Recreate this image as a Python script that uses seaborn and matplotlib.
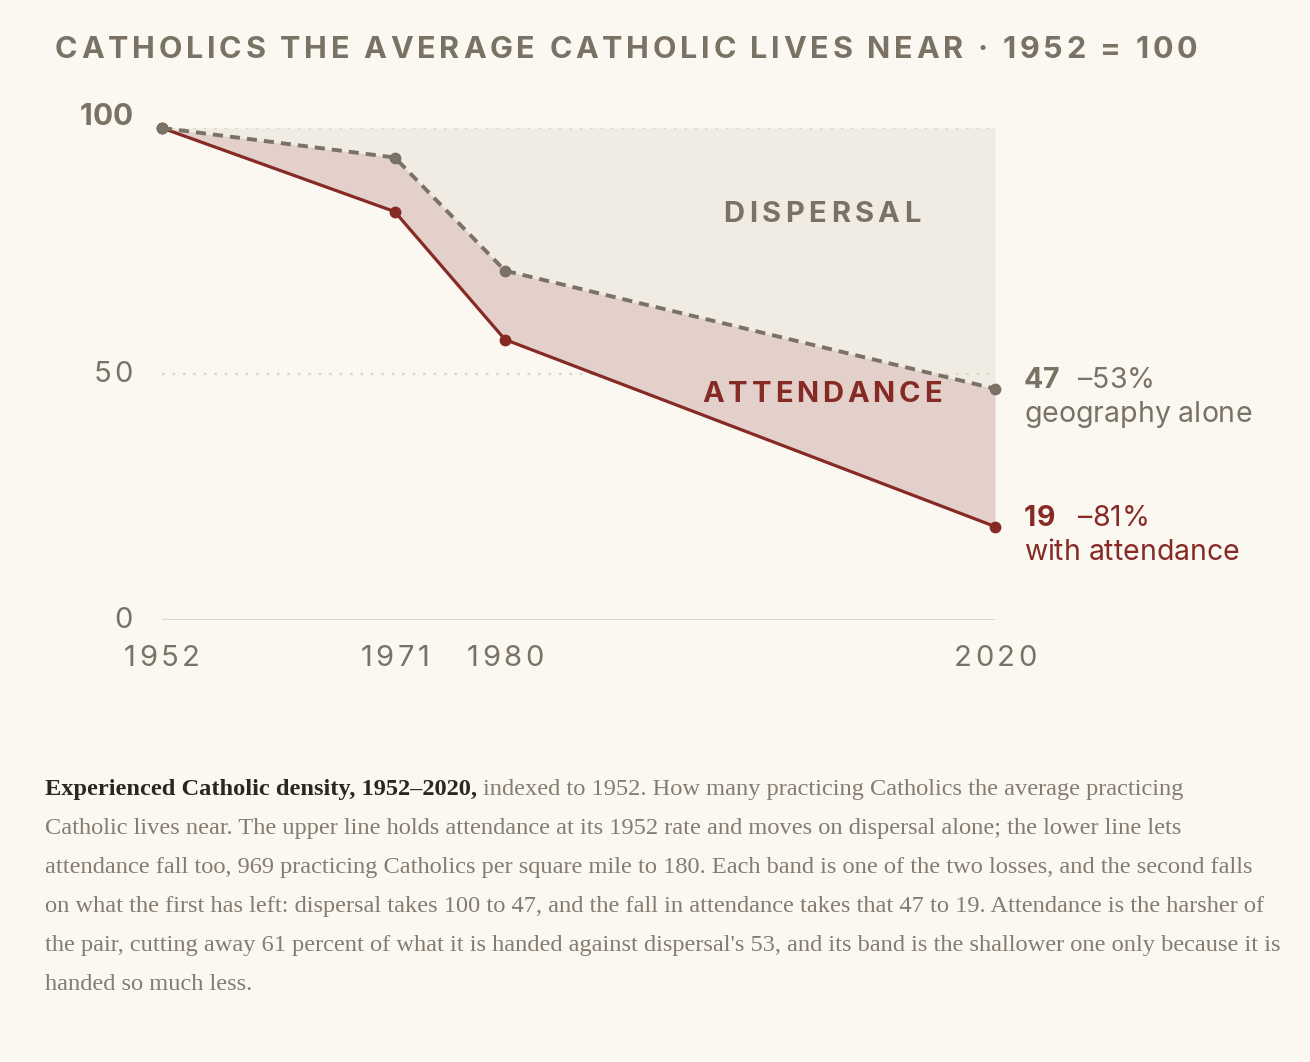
import matplotlib
matplotlib.use("Agg")
import matplotlib.pyplot as plt
import seaborn as sns
import pandas as pd
from matplotlib.font_manager import FontProperties

# index, 1952 = 100
years = [1952, 1971, 1980, 2020]
geography = [100, 94, 71, 47]     # attendance held at its 1952 rate
attendance = [100, 83, 57, 19]    # attendance allowed to fall
y_ticks = [0, 50, 100]

title = "CATHOLICS THE AVERAGE CATHOLIC LIVES NEAR \u00b7 1952 = 100"
geo_label = ("47", "\u201353%", "geography alone")
att_label = ("19", "\u201381%", "with attendance")

caption_bold = "Experienced Catholic density, 1952\u20132020,"
caption_lines = [
    " indexed to 1952. How many practicing Catholics the average practicing",
    "Catholic lives near. The upper line holds attendance at its 1952 rate and moves on dispersal alone; the lower line lets",
    "attendance fall too, 969 practicing Catholics per square mile to 180. Each band is one of the two losses, and the second falls",
    "on what the first has left: dispersal takes 100 to 47, and the fall in attendance takes that 47 to 19. Attendance is the harsher of",
    "the pair, cutting away 61 percent of what it is handed against dispersal's 53, and its band is the shallower one only because it is",
    "handed so much less.",
]

W, H = 1310, 1062
BG = "#fbf7f1"
GREY = "#7a7264"
RED = "#862a25"

sns.set_theme(style="white", rc={"figure.facecolor": BG, "axes.facecolor": BG})
plt.rcParams["font.family"] = ["Inter", "DejaVu Sans"]

fig = plt.figure(figsize=(W / 100, H / 100), dpi=100)
ax = fig.add_axes([162 / W, 1 - 620 / H, (995 - 162) / W, (620 - 128) / H])
ax.set_xlim(years[0], years[-1])
ax.set_ylim(0, 100)
ax.axis("off")

df = pd.DataFrame({"year": years, "geography": geography, "attendance": attendance})

# bands
ax.fill_between(df["year"], df["geography"], 100, color="#f0ece4", lw=0, zorder=1)
for v in y_ticks[1:]:
    ax.axhline(v, color="#dcd6c0", lw=1.6, ls=(0, (1.2, 3.5)), zorder=2)
ax.fill_between(df["year"], df["attendance"], df["geography"], color="#e4d0cb", lw=0, zorder=3)
ax.axhline(0, color="#e0d8c4", lw=1.6, zorder=2)

sns.lineplot(data=df, x="year", y="attendance", ax=ax, color=RED, lw=2.3,
             marker="o", markersize=8.5, markeredgewidth=0, clip_on=False, zorder=5)
sns.lineplot(data=df, x="year", y="geography", ax=ax, color=GREY, lw=2.8,
             linestyle=(0, (2.6, 1.8)), marker="o", markersize=8.5,
             markeredgewidth=0, clip_on=False, zorder=6)

renderer = fig.canvas.get_renderer()


def text_width(s, fp):
    return renderer.get_text_width_height_descent(s, fp, ismath=False)[0]


def spaced(x, y, s, fp, color, spacing=0.0, width=None, ha="left"):
    # x, y in pixels from the top left, y is the baseline
    natural = text_width(s, fp)
    if width is not None and len(s) > 1:
        spacing = (width - natural) / (len(s) - 1)
    total = natural + spacing * (len(s) - 1)
    if ha == "center":
        x -= total / 2
    elif ha == "right":
        x -= total
    for i, ch in enumerate(s):
        if ch == " ":
            continue
        left = text_width(s[:i + 1], fp) - text_width(ch, fp)
        fig.text((x + left + spacing * i) / W, 1 - y / H, ch, fontproperties=fp,
                 color=color, ha="left", va="baseline")


def data_px(x, y):
    px, py = ax.transData.transform((x, y))
    return px, H - py


sans = FontProperties(family=["Inter", "DejaVu Sans"], size=21)
sans_bold = FontProperties(family=["Inter", "DejaVu Sans"], size=21.5, weight="bold")
label_fp = FontProperties(family=["Inter", "DejaVu Sans"], size=20.5)
label_bold = FontProperties(family=["Inter", "DejaVu Sans"], size=20.5, weight="bold")

# title
spaced(55, 58, title, FontProperties(family=["Inter", "DejaVu Sans"], size=22, weight="bold"),
       GREY, width=1142)

# axis labels
for yr in years:
    px, py = data_px(yr, 0)
    spaced(px, 666, str(yr), sans, GREY, spacing=3.5, ha="center")
for v in y_ticks:
    px, py = data_px(years[0], v)
    if v == 100:
        spaced(133, py - 3, str(v), sans_bold, GREY, ha="right")
    else:
        spaced(133, py + 8, str(v), sans, GREY, spacing=3.5, ha="right")

# band names
band_fp = FontProperties(family=["Inter", "DejaVu Sans"], size=21, weight="bold")
spaced(822, 222, "DISPERSAL", band_fp, GREY, width=197, ha="center")
spaced(822, 402, "ATTENDANCE", band_fp, RED, width=239, ha="center")

# end labels
for (num, pct, words), series, color in [(geo_label, geography, GREY), (att_label, attendance, RED)]:
    px, py = data_px(years[-1], series[-1])
    base = py - 1
    spaced(1024, base, num, label_bold, color)
    spaced(1078, base, pct, label_fp, color)
    spaced(1024, base + 34, words, label_fp, color)

# caption
serif_ref = FontProperties(family="Liberation Serif", size=10)
fs = 10 * 1240 / text_width(caption_lines[4], serif_ref)
serif = FontProperties(family="Liberation Serif", size=fs)
serif_bold = FontProperties(family="Liberation Serif", size=fs, weight="bold")
base = 795
bw = text_width(caption_bold, serif_bold)
sp = text_width("x x", serif) - text_width("xx", serif)
fig.text(45 / W, 1 - base / H, caption_bold, fontproperties=serif_bold, color="#2b2620", va="baseline")
fig.text((45 + bw + sp) / W, 1 - base / H, caption_lines[0].strip(), fontproperties=serif,
         color="#857c70", va="baseline")
for i, line in enumerate(caption_lines[1:], start=1):
    fig.text(45 / W, 1 - (base + 39 * i) / H, line, fontproperties=serif, color="#857c70", va="baseline")

fig.savefig("out.png", dpi=100, facecolor=BG)
